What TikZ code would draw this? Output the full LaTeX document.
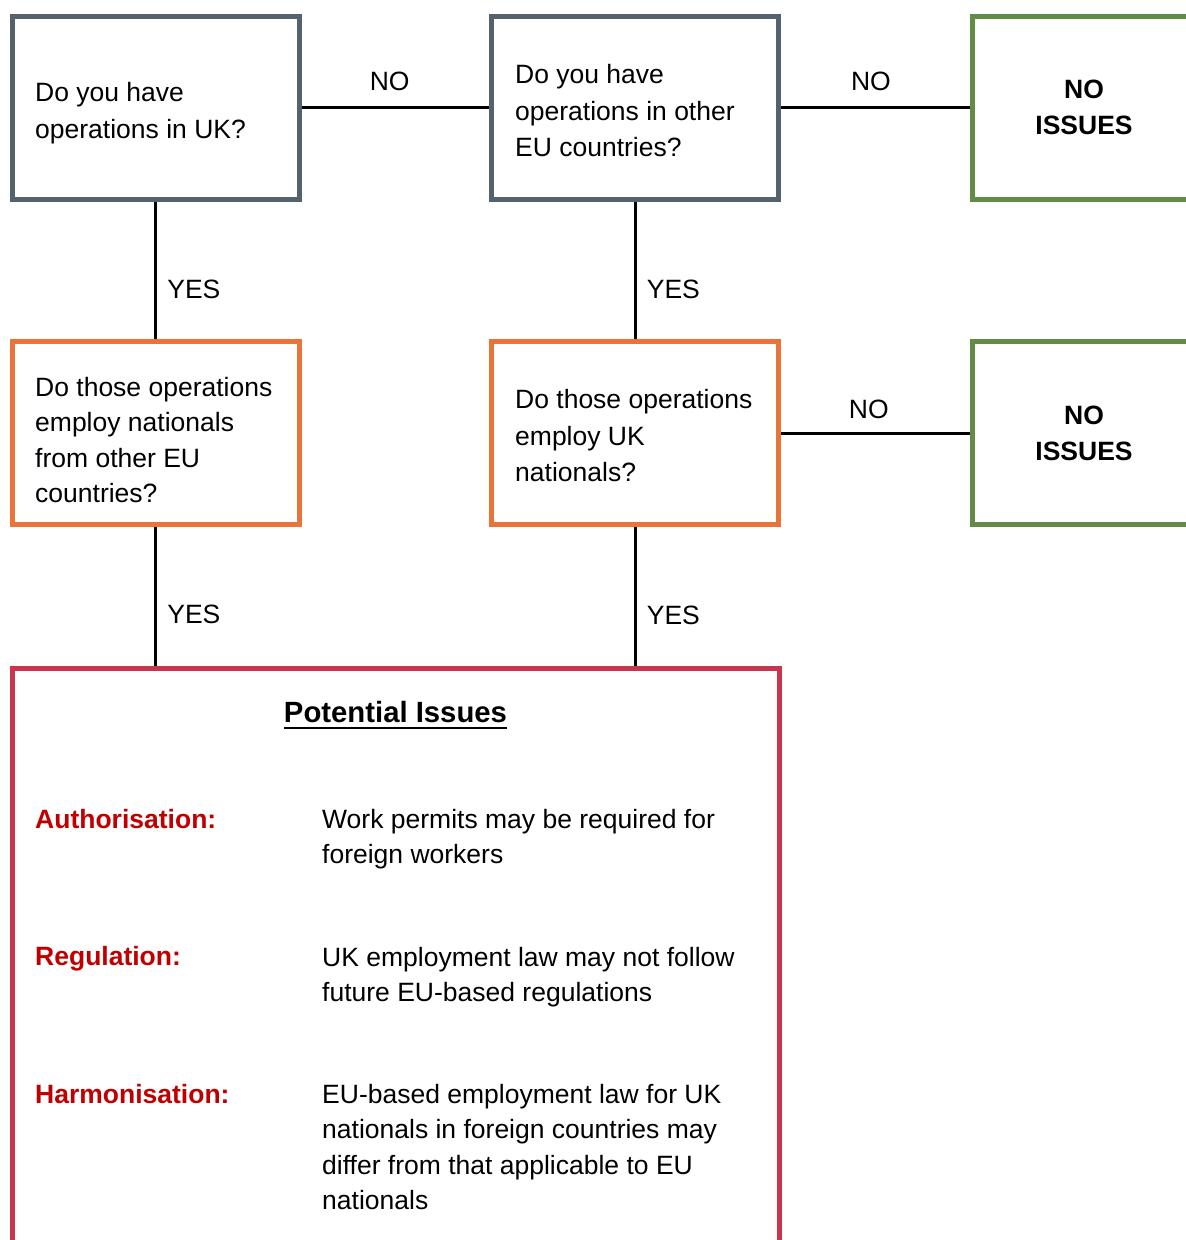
\documentclass[tikz,border=0pt]{standalone}
\usepackage{fontspec}
\setmainfont{Liberation Sans}
\definecolor{qgray}{RGB}{84,98,110}
\definecolor{qgreen}{RGB}{98,140,70}
\definecolor{qorange}{RGB}{233,116,58}
\definecolor{qred}{RGB}{200,54,78}
\definecolor{qredtext}{RGB}{192,0,0}
\tikzset{
  basefont/.style={font=\fontsize{26.5}{36.5}\selectfont},
  qbox/.style={draw=#1, line width=5pt, minimum width=287pt, minimum height=183pt, inner sep=0pt},
  boxtext/.style={font=\fontsize{26.5}{#1}\selectfont, anchor=base west, inner sep=0pt, align=left},
  nobox/.style={font=\fontsize{26.5}{36}\selectfont\bfseries, draw=qgreen, line width=5pt,
    minimum width=224pt, minimum height=183pt, align=center},
  conn/.style={draw=black, line width=3pt},
  lbl/.style={basefont, inner sep=3.33pt},
  issuehead/.style={font=\fontsize{26.5}{35.5}\selectfont\bfseries, text=qredtext, anchor=base west, inner sep=0pt},
  issuetext/.style={font=\fontsize{26.5}{35.5}\selectfont, anchor=base west, inner sep=0pt, align=left},
}
\begin{document}
\begin{tikzpicture}[x=1pt,y=-1pt]
\useasboundingbox (0,0) rectangle (1186,1240);
% boxes
\node[qbox=qgray] (q1) at (155.5,107.5) {};
\node[boxtext=37] (q1t) at (35,138.5) {Do you have\\operations in UK?};
\node[qbox=qgray] (q2) at (635,107.5) {};
\node[boxtext=36.5] (q2t) at (515,156.5) {Do you have\\operations in other\\EU countries?};
\node[nobox] (n1) at (1084,107.5) {NO\\ISSUES};
\node[qbox=qorange] (q3) at (155.5,433) {};
\node[boxtext=35.3] (q3t) at (35,502.5) {Do those operations\\employ nationals\\from other EU\\countries?};
\node[qbox=qorange] (q4) at (635,433) {};
\node[boxtext=36.5] (q4t) at (515,481.5) {Do those operations\\employ UK\\nationals?};
\node[nobox] (n2) at (1084,433) {NO\\ISSUES};
\node[draw=qred, line width=5pt, minimum width=767pt, minimum height=592pt, inner sep=0pt] (pi) at (395.5,964) {};
% connectors
\draw[conn] (q1.east) -- (q2.west) node[lbl, pos=0.47, yshift=26pt] (l1) {NO};
\draw[conn] (q2.east) -- (n1.west) node[lbl, pos=0.477, yshift=26pt] (l2) {NO};
\draw[conn] (q4.east) -- (n2.west) node[lbl, pos=0.466, yshift=24pt] (l3) {NO};
\draw[conn] (q1.south) -- (q3.north) node[lbl, pos=0.64, right=7pt] (l4) {YES};
\draw[conn] (q2.south) -- (q4.north) node[lbl, pos=0.64, right=7pt] (l5) {YES};
\draw[conn] (q3.south) -- (q3.south |- pi.north) node[lbl, pos=0.63, right=7pt] (l6) {YES};
\draw[conn] (q4.south) -- (q4.south |- pi.north) node[lbl, pos=0.64, right=7pt] (l7) {YES};
% issues content
\node[font=\fontsize{29.3}{35}\selectfont\bfseries, anchor=base, inner sep=0pt] (pt) at (395.5,722.5) {Potential Issues};
\draw[line width=2.6pt] ([yshift=-5.5pt]pt.base west) -- ([yshift=-5.5pt]pt.base east);
\node[issuehead] (h1) at (35,828) {Authorisation:};
\node[issuetext] (t1) at (322,863.5) {Work permits may be required for\\foreign workers};
\node[issuehead] (h2) at (35,965.5) {Regulation:};
\node[issuetext] (t2) at (322,1001.5) {UK employment law may not follow\\future EU-based regulations};
\node[issuehead] (h3) at (35,1103.5) {Harmonisation:};
\node[issuetext] (t3) at (322,1209.5) {EU-based employment law for UK\\nationals in foreign countries may\\differ from that applicable to EU\\nationals};
\end{tikzpicture}
\end{document}
